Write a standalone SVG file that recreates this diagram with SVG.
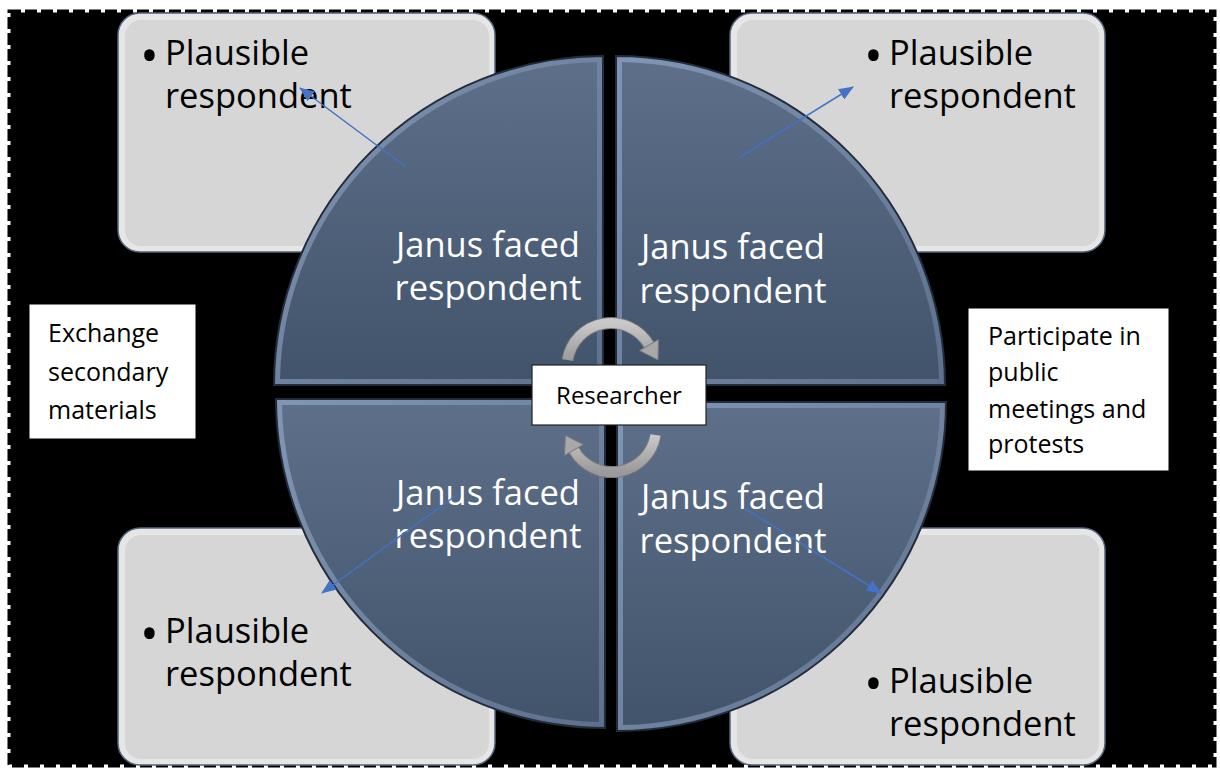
<svg xmlns="http://www.w3.org/2000/svg" width="1220" height="769" viewBox="0 0 1220 769">
<defs>
<style>
.bx-out{fill:#e6e6e6;stroke:#56667e;stroke-width:1.5}
.bx-in{fill:#d6d6d6}
.ptxt{font-family:"Open Sans","Noto Sans",sans-serif;font-size:34.5px;fill:#000}
.bul{font-family:"Open Sans","Noto Sans",sans-serif;font-size:50px;fill:#000}
.jtxt{font-family:"Open Sans","Noto Sans",sans-serif;font-size:34.5px;fill:#fff;text-anchor:middle}
.stxt{font-family:"Open Sans","Noto Sans",sans-serif;font-size:25px;fill:#000}
.q-out{fill:url(#rim);stroke:#232c3a;stroke-width:2}
.q-in{fill:url(#qfill)}
.conn{stroke:#4472c4;stroke-width:1.5;fill:none;marker-end:url(#ah)}
.cyc{fill:none;stroke:url(#cycg);stroke-width:10}
.cyc-edge{fill:none;stroke:#7a7a7a;stroke-width:12}
</style>
<linearGradient id="qfill" x1="0" y1="0" x2="0" y2="1">
<stop offset="0" stop-color="#5e6f89"/>
<stop offset="1" stop-color="#42536c"/>
</linearGradient>
<linearGradient id="rim" x1="0" y1="0" x2="1" y2="1">
<stop offset="0" stop-color="#8196b4"/>
<stop offset="1" stop-color="#5d718e"/>
</linearGradient>
<linearGradient id="cycg" x1="0" y1="0" x2="0" y2="1">
<stop offset="0" stop-color="#c9c9c9"/>
<stop offset="1" stop-color="#9a9a9a"/>
</linearGradient>
<marker id="ah" markerWidth="15" markerHeight="12" refX="14" refY="6" orient="auto" markerUnits="userSpaceOnUse" viewBox="0 0 15 12">
<path d="M0,0 L15,6 L0,12 Z" fill="#4472c4"/>
</marker>
</defs>

<rect x="0" y="0" width="1220" height="769" fill="#fff"/>
<rect x="9" y="11" width="1206" height="755" fill="#000" stroke="#000" stroke-width="3" stroke-dasharray="12 4"/>
<rect x="9" y="11" width="1206" height="755" fill="none" stroke="#fff" stroke-width="3" stroke-dasharray="0 12 4 0"/>

<g id="box-tl">
<rect class="bx-out" x="118" y="13" width="377" height="239" rx="22"/>
<rect class="bx-in" x="125" y="20" width="364" height="226" rx="16"/>
<text class="bul" x="140" y="73">•</text>
<text class="ptxt" x="165" y="65">Plausible</text>
<text class="ptxt" x="165" y="108">respondent</text>
</g>
<g id="box-tr">
<rect class="bx-out" x="730" y="13" width="375" height="239" rx="22"/>
<rect class="bx-in" x="737" y="20" width="362" height="226" rx="16"/>
<text class="bul" x="864" y="73">•</text>
<text class="ptxt" x="889" y="65">Plausible</text>
<text class="ptxt" x="889" y="108">respondent</text>
</g>
<g id="box-bl">
<rect class="bx-out" x="118" y="528" width="377" height="237" rx="22"/>
<rect class="bx-in" x="125" y="535" width="364" height="224" rx="16"/>
<text class="bul" x="140" y="651">•</text>
<text class="ptxt" x="165" y="643">Plausible</text>
<text class="ptxt" x="165" y="686">respondent</text>
</g>
<g id="box-br">
<rect class="bx-out" x="730" y="528" width="375" height="237" rx="22"/>
<rect class="bx-in" x="737" y="535" width="362" height="224" rx="16"/>
<text class="bul" x="864" y="701">•</text>
<text class="ptxt" x="889" y="693">Plausible</text>
<text class="ptxt" x="889" y="736">respondent</text>
</g>

<g id="quad-tl">
<path class="q-out" d="M603,385 L274,385 A329,329 0 0 1 603,56 Z"/>
<path class="q-in" d="M597,379 L280,379 A323,323 0 0 1 597,62 Z"/>
<text class="jtxt" x="488" y="257">Janus faced</text>
<text class="jtxt" x="488" y="300">respondent</text>
</g>
<g id="quad-tr">
<path class="q-out" d="M616,385 L616,56 A329,329 0 0 1 945,385 Z"/>
<path class="q-in" d="M622,379 L622,62 A323,323 0 0 1 939,379 Z"/>
<text class="jtxt" x="733" y="259">Janus faced</text>
<text class="jtxt" x="733" y="303">respondent</text>
</g>
<g id="quad-bl">
<path class="q-out" d="M605,399 L605,728 A329,329 0 0 1 276,399 Z"/>
<path class="q-in" d="M599,405 L599,722 A323,323 0 0 1 282,405 Z"/>
<text class="jtxt" x="488" y="505">Janus faced</text>
<text class="jtxt" x="488" y="548">respondent</text>
</g>
<g id="quad-br">
<path class="q-out" d="M617,402 L946,402 A329,329 0 0 1 617,731 Z"/>
<path class="q-in" d="M623,408 L940,408 A323,323 0 0 1 623,725 Z"/>
<text class="jtxt" x="733" y="509">Janus faced</text>
<text class="jtxt" x="733" y="553">respondent</text>
</g>

<g id="note-left">
<rect x="29" y="304" width="167" height="135" fill="#fff" stroke="#000" stroke-width="1"/>
<text class="stxt" x="48" y="342">Exchange</text>
<text class="stxt" x="48" y="381">secondary</text>
<text class="stxt" x="48" y="419">materials</text>
</g>
<g id="note-right">
<rect x="968" y="308" width="201" height="163" fill="#fff" stroke="#000" stroke-width="1"/>
<text class="stxt" x="988" y="345">Participate in</text>
<text class="stxt" x="988" y="381">public</text>
<text class="stxt" x="988" y="418">meetings and</text>
<text class="stxt" x="988" y="453">protests</text>
</g>

<g id="researcher">
<path class="cyc-edge" d="M567.5,360 A44,44 0 0 1 649,345"/>
<path class="cyc" d="M567.5,360 A44,44 0 0 1 649,345"/>
<path d="M658.5,339.5 L639.5,350.5 L658,360 Z" fill="#a8a8a8" stroke="#7a7a7a" stroke-width="1"/>
<path class="cyc-edge" d="M655.5,435 A44,44 0 0 1 573.9,450"/>
<path class="cyc" d="M655.5,435 A44,44 0 0 1 573.9,450"/>
<path d="M564.4,455.5 L583.4,444.5 L565.5,435.5 Z" fill="#a8a8a8" stroke="#7a7a7a" stroke-width="1"/>
<rect x="532" y="365" width="174" height="60" fill="#fff" stroke="#222" stroke-width="1.2"/>
<text x="619" y="404" font-family="Open Sans, Noto Sans, sans-serif" font-size="24" text-anchor="middle" fill="#000">Researcher</text>
</g>

<g id="connectors">
<line class="conn" x1="406" y1="167" x2="300" y2="88"/>
<line class="conn" x1="740" y1="157" x2="853" y2="87"/>
<line class="conn" x1="458" y1="494" x2="322" y2="593"/>
<line class="conn" x1="744" y1="508" x2="881" y2="593"/>
</g>
</svg>
